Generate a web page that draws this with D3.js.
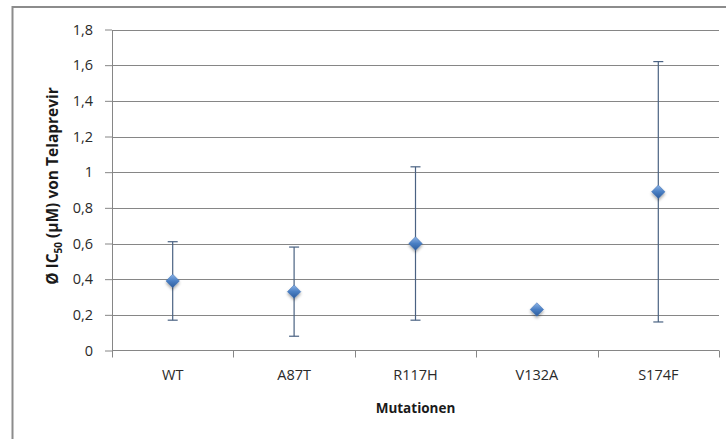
<!DOCTYPE html>
<html>
<head>
<meta charset="utf-8">
<script src="https://cdn.jsdelivr.net/npm/d3@7"></script>
<style>
  body { margin: 0; background: white; }
  text { font-family: "Open Sans", sans-serif; }
</style>
</head>
<body>
<script>
const categories = ["WT", "A87T", "R117H", "V132A", "S174F"];
const meanValues = [0.39, 0.33, 0.60, 0.23, 0.89];
const lowerValues = [0.17, 0.08, 0.17, null, 0.16];
const upperValues = [0.61, 0.58, 1.03, null, 1.62];
const yTicks = [0, 0.2, 0.4, 0.6, 0.8, 1, 1.2, 1.4, 1.6, 1.8];

const wSvg = 726;
const hSvg = 439;
const plotLeft = 112;
const plotRight = 719;
const plotTop = 29.5;
const plotBottom = 350.5;

const data = categories.map((c, i) => ({
    name: c,
    mean: meanValues[i],
    low: lowerValues[i],
    high: upperValues[i]
}));

const locale = d3.formatLocale({ decimal: ",", thousands: ".", grouping: [3], currency: ["", "€"] });
const fmt = locale.format("~g");

let svg = d3.select("body")
    .append("svg")
    .attr("width", wSvg)
    .attr("height", hSvg);

let defs = svg.append("defs");
let grad = defs.append("linearGradient")
    .attr("id", "diamondGrad")
    .attr("x1", 0).attr("y1", 0).attr("x2", 0).attr("y2", 1);
grad.append("stop").attr("offset", "0%").attr("stop-color", "#8db4e6");
grad.append("stop").attr("offset", "50%").attr("stop-color", "#4a7fc4");
grad.append("stop").attr("offset", "100%").attr("stop-color", "#2d5c9c");

let shadow = defs.append("filter")
    .attr("id", "shadow")
    .attr("x", "-50%").attr("y", "-50%").attr("width", "200%").attr("height", "200%");
shadow.append("feDropShadow")
    .attr("dx", 0).attr("dy", 2).attr("stdDeviation", 1.5)
    .attr("flood-color", "#000").attr("flood-opacity", 0.35);

// outer chart border
svg.append("rect")
    .attr("x", 12.5)
    .attr("y", 7)
    .attr("width", 740)
    .attr("height", 460)
    .attr("fill", "none")
    .attr("stroke", "#8c8c8c")
    .attr("stroke-width", 2);

let yScale = d3.scaleLinear([0, 1.8], [plotBottom, plotTop]);
let xScale = d3.scaleBand(categories, [plotLeft, plotRight]).padding(0);

// gridlines
svg.append("g")
    .selectAll("line")
    .data(yTicks.filter(d => d > 0))
    .enter()
    .append("line")
    .attr("x1", plotLeft)
    .attr("x2", plotRight)
    .attr("y1", d => Math.round(yScale(d)) + 0.5)
    .attr("y2", d => Math.round(yScale(d)) + 0.5)
    .attr("stroke", "#868686");

let yAxis = d3.axisLeft(yScale)
    .tickValues(yTicks)
    .tickFormat(fmt)
    .tickSizeInner(7)
    .tickSizeOuter(0)
    .tickPadding(12);
let yG = svg.append("g")
    .attr("transform", `translate(${plotLeft}, 0)`)
    .call(yAxis);
yG.selectAll("text")
    .attr("fill", "#2a2a2a")
    .style("font-size", "14.5px");

// x axis
let xG = svg.append("g")
    .attr("transform", `translate(0, ${plotBottom})`)
    .call(d3.axisBottom(xScale).tickSize(0).tickPadding(19));
xG.select(".domain").remove();
xG.selectAll("text")
    .attr("fill", "#2a2a2a")
    .style("font-size", "14.5px");
svg.append("line")
    .attr("x1", plotLeft).attr("x2", plotRight)
    .attr("y1", plotBottom).attr("y2", plotBottom)
    .attr("stroke", "#868686");
let bounds = categories.map(c => xScale(c)).concat([plotRight]);
svg.append("g")
    .selectAll("line")
    .data(bounds)
    .enter()
    .append("line")
    .attr("x1", d => Math.round(d) + 0.5)
    .attr("x2", d => Math.round(d) + 0.5)
    .attr("y1", plotBottom)
    .attr("y2", plotBottom + 7)
    .attr("stroke", "#868686");

svg.selectAll(".domain, .tick line")
    .attr("stroke", "#868686");

// error bars
const cx = d => xScale(d.name) + xScale.bandwidth() / 2;
let bars = svg.append("g")
    .selectAll("g")
    .data(data.filter(d => d.low !== null))
    .enter()
    .append("g")
    .attr("stroke", "#4a6282")
    .attr("stroke-width", 1.2);
bars.append("line")
    .attr("x1", cx).attr("x2", cx)
    .attr("y1", d => yScale(d.low))
    .attr("y2", d => yScale(d.high));
bars.append("line")
    .attr("x1", d => cx(d) - 5).attr("x2", d => cx(d) + 5)
    .attr("y1", d => yScale(d.low))
    .attr("y2", d => yScale(d.low));
bars.append("line")
    .attr("x1", d => cx(d) - 5).attr("x2", d => cx(d) + 5)
    .attr("y1", d => yScale(d.high))
    .attr("y2", d => yScale(d.high));

// markers
const diamond = d3.symbol().type(d3.symbolDiamond2).size(115);
svg.append("g")
    .selectAll("path")
    .data(data)
    .enter()
    .append("path")
    .attr("transform", d => `translate(${cx(d)}, ${yScale(d.mean)})`)
    .attr("d", diamond())
    .attr("fill", "url(#diamondGrad)")
    .attr("stroke", "#3b6db0")
    .attr("stroke-width", 0.5)
    .attr("filter", "url(#shadow)");

// axis titles
svg.append("text")
    .attr("x", (plotLeft + plotRight) / 2)
    .attr("y", 413)
    .attr("text-anchor", "middle")
    .attr("fill", "#1a1a1a")
    .style("font-size", "13.5px")
    .style("font-weight", "bold")
    .text("Mutationen");

let yTitle = svg.append("text")
    .attr("transform", `translate(58, 186) rotate(-90)`)
    .attr("text-anchor", "middle")
    .attr("fill", "#1a1a1a")
    .style("font-size", "15.5px")
    .style("font-weight", "bold");
yTitle.append("tspan").text("Ø IC");
yTitle.append("tspan").attr("dy", 4).style("font-size", "10px").text("50");
yTitle.append("tspan").attr("dy", -4).text(" (µM) von Telaprevir");
</script>
</body>
</html>
